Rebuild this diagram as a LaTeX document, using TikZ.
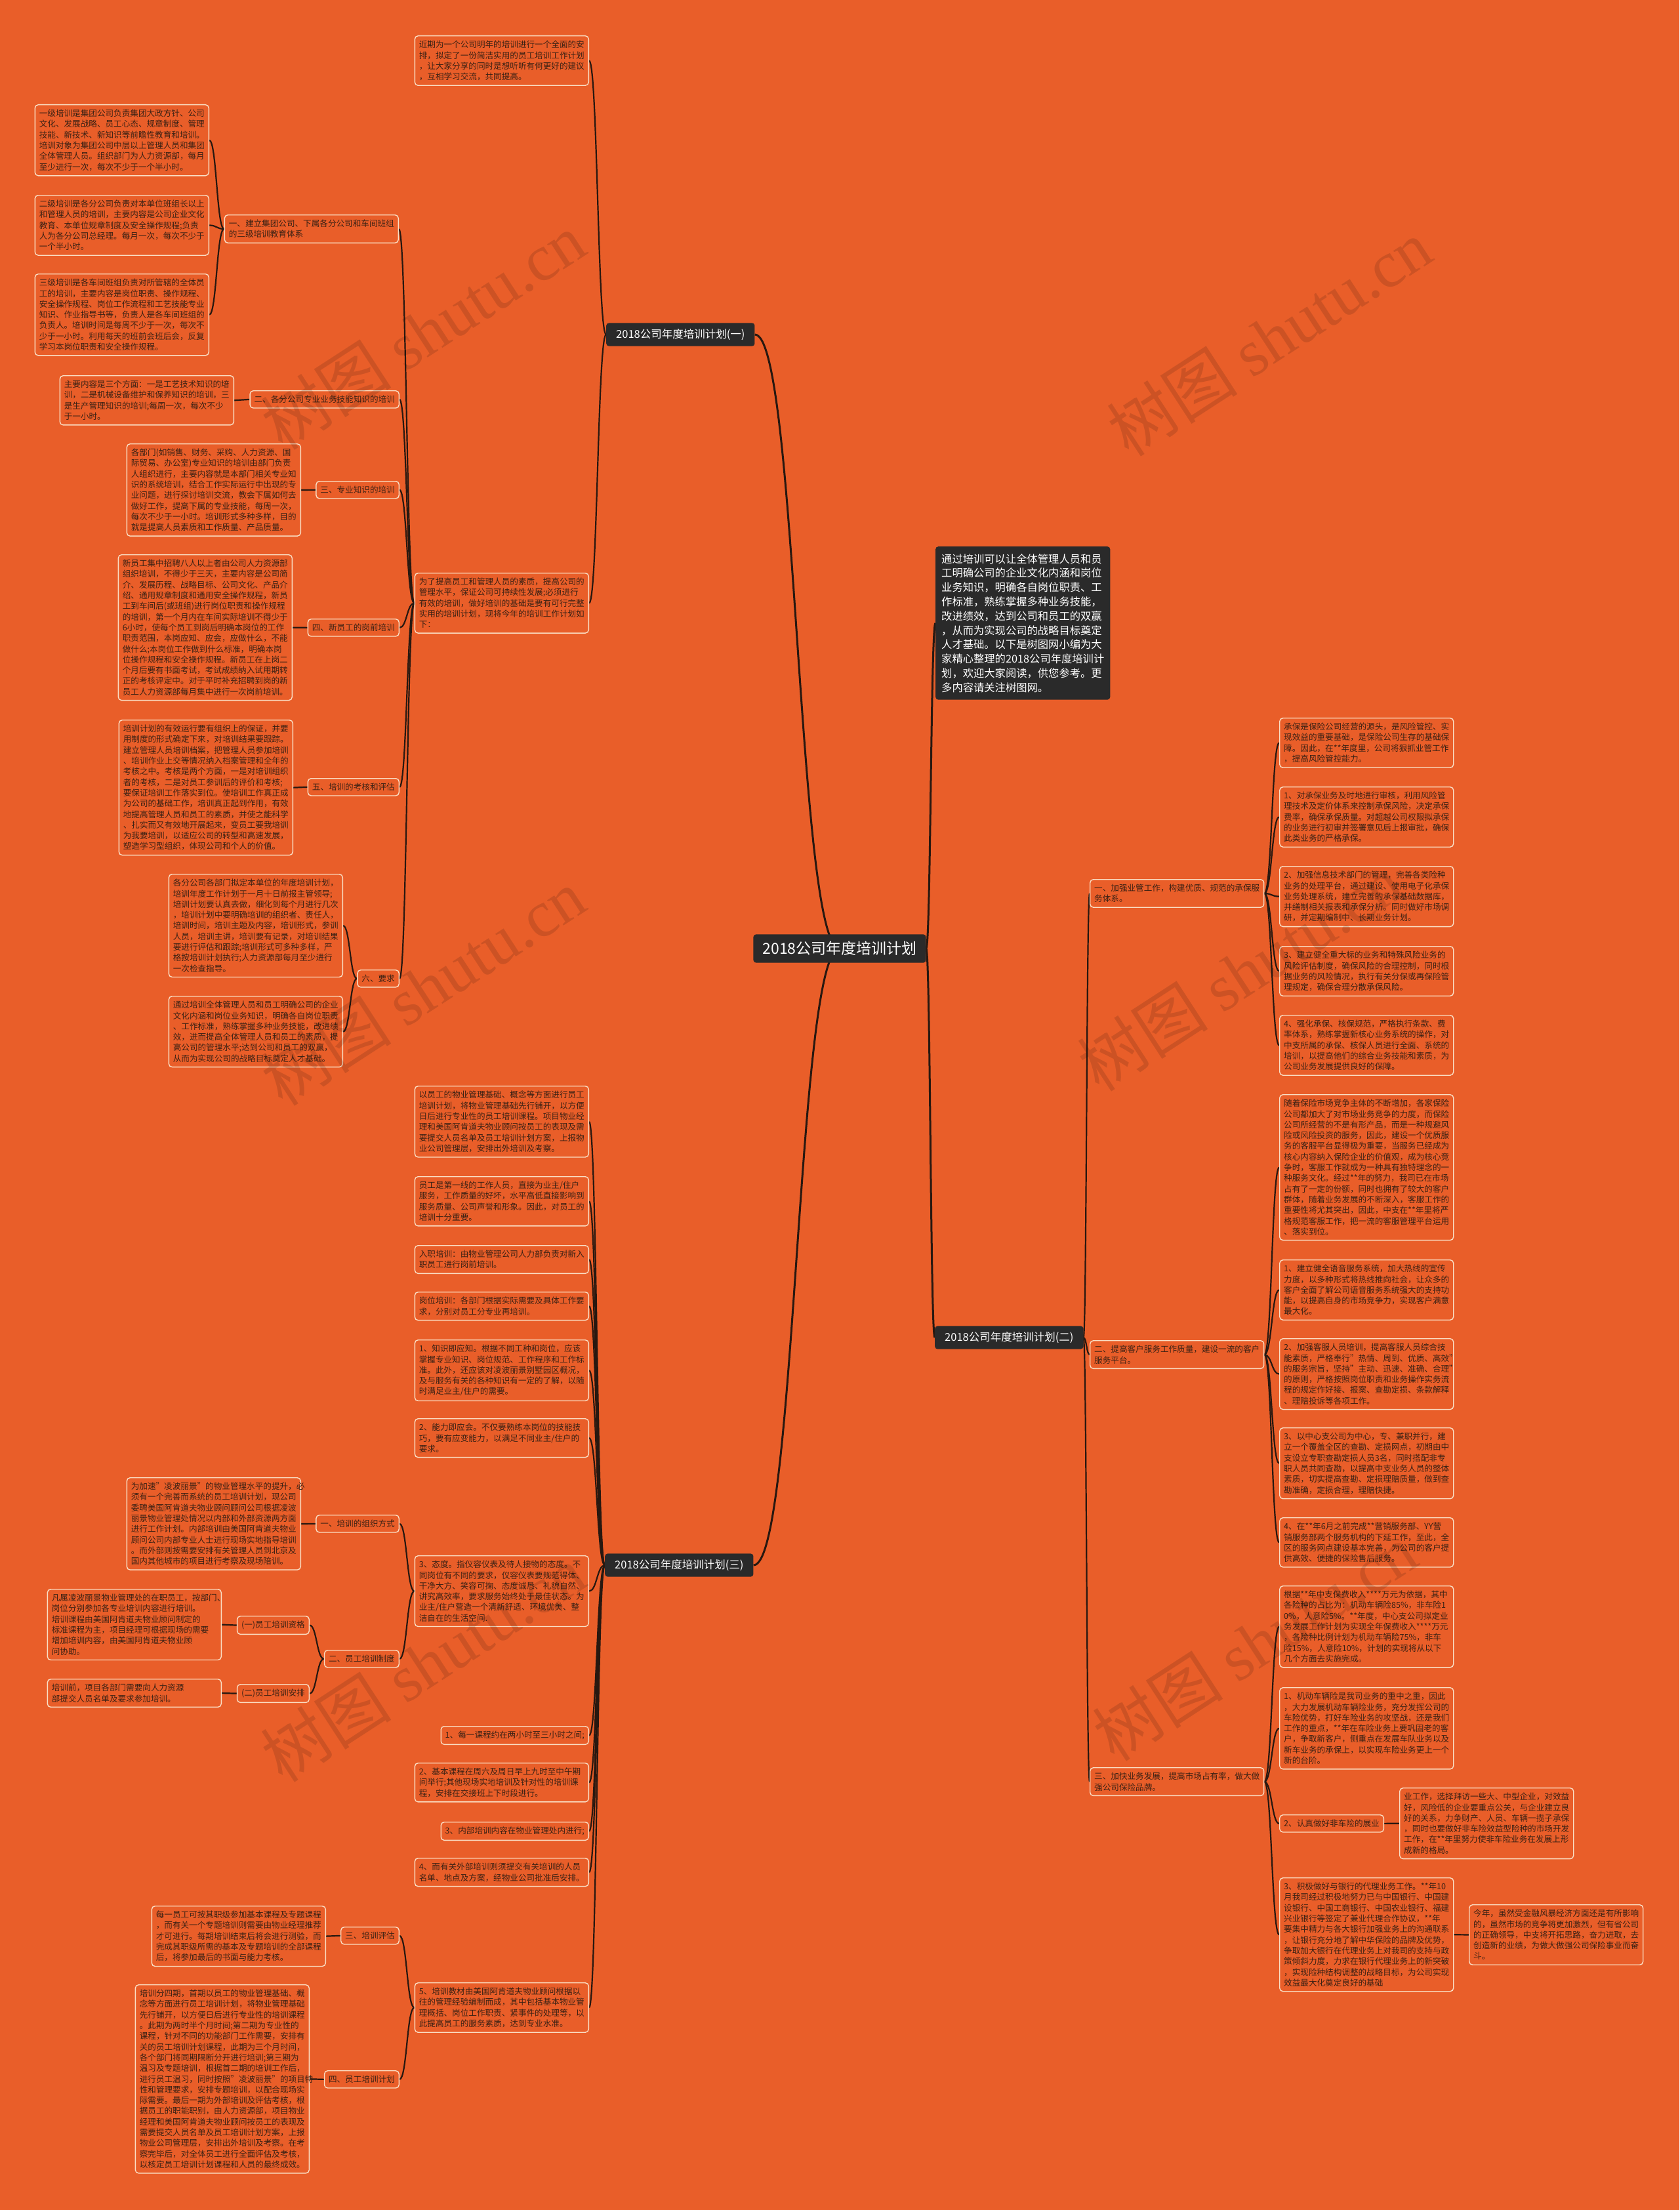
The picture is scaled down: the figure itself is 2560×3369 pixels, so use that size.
\documentclass[tikz,border=0pt]{standalone}
\usepackage{fontspec}
\setmainfont{Noto Sans CJK SC}
\newfontfamily\wmfont{Liberation Serif}
\usetikzlibrary{calc}
\definecolor{bgorange}{RGB}{233,94,41}
\definecolor{boxline}{RGB}{250,222,196}
\definecolor{txtbrown}{RGB}{58,33,20}
\definecolor{linebrown}{RGB}{40,24,16}
\definecolor{darkbox}{RGB}{42,42,42}
\pgfdeclarelayer{paper}
\pgfdeclarelayer{wires}
\pgfsetlayers{paper,wires,main}
\newcommand\bodyfont{\fontsize{12.6}{16.3}\selectfont}
% curved branch: horizontal ends, turn at half way
\newcommand\branch[3][wire]{%
  \path (#2) coordinate (p) (#3) coordinate (c) ($(p)!0.5!(c)$) coordinate (m);
  \draw[#1] (p) .. controls (m |- p) and (m |- c) .. (c);}
\tikzset{
  note/.style={draw=boxline, line width=1.4pt, fill=bgorange, rounded corners=5pt,
    text=txtbrown, font=\bodyfont, align=left, inner xsep=6.5pt, inner ysep=7.3pt},
  wide/.style={note, text width=252pt},
  lnote/.style={anchor=north east},
  rnote/.style={anchor=north west},
  topic/.style={fill=darkbox, rounded corners=4pt, text=white, inner xsep=15pt, inner ysep=9pt,
    font=\fontsize{16.5}{20}\selectfont},
  wire/.style={draw=linebrown, line width=2.2pt},
  trunk/.style={draw=linebrown, line width=3pt},
  mark wm/.style={rotate=33, text=black, opacity=0.12, font=\fontsize{100}{110}\selectfont}
}
\begin{document}
\begin{tikzpicture}[x=1pt, y=-1pt]
\useasboundingbox (0,0) rectangle (2560,3369);
\begin{pgfonlayer}{paper}
  \fill[bgorange] (0,0) rectangle (2560,3369);
\end{pgfonlayer}

% centre and main topics
\node[topic, font=\fontsize{23}{26}\selectfont, inner xsep=14pt, inner ysep=11pt] (ctr) at (1280,1446) {2018公司年度培训计划};
\node[topic, anchor=west] (b1) at (924,510) {2018公司年度培训计划(一)};
\node[topic, anchor=west] (b2) at (1425,2039) {2018公司年度培训计划(二)};
\node[topic, anchor=west] (b3) at (922,2386) {2018公司年度培训计划(三)};
\node[topic, anchor=north west, align=left, inner xsep=9pt, inner ysep=11pt, font=\fontsize{16.3}{21.8}\selectfont] (intro) at (1426,833)
  {通过培训可以让全体管理人员和员\\工明确公司的企业文化内涵和岗位\\业务知识，明确各自岗位职责、工\\作标准，熟练掌握多种业务技能，\\改进绩效，达到公司和员工的双赢\\，从而为实现公司的战略目标奠定\\人才基础。以下是树图网小编为大\\家精心整理的2018公司年度培训计\\划，欢迎大家阅读，供您参考。更\\多内容请关注树图网。};

% ---- (一)
\node[wide, lnote] (t0) at (898,54) {近期为一个公司明年的培训进行一个全面的安\\排，拟定了一份简洁实用的员工培训工作计划\\，让大家分享的同时是想听听有何更好的建议\\，互相学习交流，共同提高。};
\node[wide, lnote] (tp) at (898,873) {为了提高员工和管理人员的素质，提高公司的\\管理水平，保证公司可持续性发展;必须进行\\有效的培训，做好培训的基础是要有可行完整\\实用的培训计划，现将今年的培训工作计划如\\下：};
\node[wide, lnote] (L1) at (608,327) {一、建立集团公司、下属各分公司和车间班组\\的三级培训教育体系};
\node[wide, lnote] (A1) at (319,159) {一级培训是集团公司负责集团大政方针、公司\\文化、发展战略、员工心态、规章制度、管理\\技能、新技术、新知识等前瞻性教育和培训。\\培训对象为集团公司中层以上管理人员和集团\\全体管理人员。组织部门为人力资源部，每月\\至少进行一次，每次不少于一个半小时。};
\node[wide, lnote] (A2) at (319,297) {二级培训是各分公司负责对本单位班组长以上\\和管理人员的培训，主要内容是公司企业文化\\教育、本单位规章制度及安全操作规程;负责\\人为各分公司总经理。每月一次，每次不少于\\一个半小时。};
\node[wide, lnote] (A3) at (319,417) {三级培训是各车间班组负责对所管辖的全体员\\工的培训，主要内容是岗位职责、操作规程、\\安全操作规程、岗位工作流程和工艺技能专业\\知识、作业指导书等，负责人是各车间班组的\\负责人。培训时间是每周不少于一次，每次不\\少于一小时。利用每天的班前会班后会，反复\\学习本岗位职责和安全操作规程。};
\node[note, lnote] (L2) at (609,595) {二、各分公司专业业务技能知识的培训};
\node[wide, lnote] (B1) at (357,572) {主要内容是三个方面：一是工艺技术知识的培\\训，二是机械设备维护和保养知识的培训，三\\是生产管理知识的培训;每周一次，每次不少\\于一小时。};
\node[note, lnote] (L3) at (609,733) {三、专业知识的培训};
\node[wide, lnote] (B2) at (459,676) {各部门(如销售、财务、采购、人力资源、国\\际贸易、办公室)专业知识的培训由部门负责\\人组织进行，主要内容就是本部门相关专业知\\识的系统培训，结合工作实际运行中出现的专\\业问题，进行探讨培训交流，教会下属如何去\\做好工作，提高下属的专业技能，每周一次，\\每次不少于一小时。培训形式多种多样，目的\\就是提高人员素质和工作质量、产品质量。};
\node[note, lnote] (L4) at (609,943) {四、新员工的岗前培训};
\node[wide, lnote] (B3) at (446,845) {新员工集中招聘八人以上者由公司人力资源部\\组织培训，不得少于三天，主要内容是公司简\\介、发展历程、战略目标、公司文化、产品介\\绍、通用规章制度和通用安全操作规程，新员\\工到车间后(或班组)进行岗位职责和操作规程\\的培训，第一个月内在车间实际培训不得少于\\6小时，使每个员工到岗后明确本岗位的工作\\职责范围，本岗应知、应会，应做什么，不能\\做什么;本岗位工作做到什么标准，明确本岗\\位操作规程和安全操作规程。新员工在上岗二\\个月后要有书面考试，考试成绩纳入试用期转\\正的考核评定中。对于平时补充招聘到岗的新\\员工人力资源部每月集中进行一次岗前培训。};
\node[note, lnote] (L5) at (609,1186) {五、培训的考核和评估};
\node[wide, lnote] (B5) at (447,1097) {培训计划的有效运行要有组织上的保证，并要\\用制度的形式确定下来，对培训结果要跟踪。\\建立管理人员培训档案，把管理人员参加培训\\、培训作业上交等情况纳入档案管理和全年的\\考核之中。考核是两个方面，一是对培训组织\\者的考核，二是对员工参训后的评价和考核;\\要保证培训工作落实到位。使培训工作真正成\\为公司的基础工作，培训真正起到作用，有效\\地提高管理人员和员工的素质，并使之能科学\\、扎实而又有效地开展起来，变员工要我培训\\为我要培训，以适应公司的转型和高速发展，\\塑造学习型组织，体现公司和个人的价值。};
\node[note, lnote] (L6) at (609,1478) {六、要求};
\node[wide, lnote] (B6) at (523,1332) {各分公司各部门拟定本单位的年度培训计划，\\培训年度工作计划于一月十日前报主管领导;\\培训计划要认真去做，细化到每个月进行几次\\，培训计划中要明确培训的组织者、责任人，\\培训时间，培训主题及内容，培训形式，参训\\人员，培训主讲，培训要有记录，对培训结果\\要进行评估和跟踪;培训形式可多种多样，严\\格按培训计划执行;人力资源部每月至少进行\\一次检查指导。};
\node[wide, lnote] (B7) at (523,1518) {通过培训全体管理人员和员工明确公司的企业\\文化内涵和岗位业务知识，明确各自岗位职责\\、工作标准，熟练掌握多种业务技能，改进绩\\效，进而提高全体管理人员和员工的素质，提\\高公司的管理水平;达到公司和员工的双赢，\\从而为实现公司的战略目标奠定人才基础。};

% ---- (三)
\node[wide, lnote] (C1) at (898,1655) {以员工的物业管理基础、概念等方面进行员工\\培训计划，将物业管理基础先行铺开，以方便\\日后进行专业性的员工培训课程。项目物业经\\理和美国阿肯道夫物业顾问按员工的表现及需\\要提交人员名单及员工培训计划方案，上报物\\业公司管理层，安排出外培训及考察。};
\node[wide, lnote] (C2) at (898,1793) {员工是第一线的工作人员，直接为业主/住户\\服务，工作质量的好坏，水平高低直接影响到\\服务质量、公司声誉和形象。因此，对员工的\\培训十分重要。};
\node[wide, lnote] (C3) at (898,1898) {入职培训：由物业管理公司人力部负责对新入\\职员工进行岗前培训。};
\node[wide, lnote] (C4) at (898,1969) {岗位培训：各部门根据实际需要及具体工作要\\求，分别对员工分专业再培训。};
\node[wide, lnote] (C5) at (898,2042) {1、知识即应知。根据不同工种和岗位，应该\\掌握专业知识、岗位规范、工作程序和工作标\\准。此外，还应该对凌波丽景别墅园区概况，\\及与服务有关的各种知识有一定的了解，以随\\时满足业主/住户的需要。};
\node[wide, lnote] (C6) at (898,2162) {2、能力即应会。不仅要熟练本岗位的技能技\\巧，要有应变能力，以满足不同业主/住户的\\要求。};
\node[wide, lnote] (C7) at (898,2371) {3、态度。指仪容仪表及待人接物的态度。不\\同岗位有不同的要求，仪容仪表要规范得体、\\干净大方、笑容可掬、态度诚恳、礼貌自然、\\讲究高效率，要求服务始终处于最佳状态。为\\业主/住户营造一个清新舒适、环境优美、整\\洁自在的生活空间.};
\node[note, lnote] (C8) at (898,2631) {1、每一课程约在两小时至三小时之间;};
\node[wide, lnote] (C9) at (898,2687) {2、基本课程在周六及周日早上九时至中午期\\间举行;其他现场实地培训及针对性的培训课\\程，安排在交接班上下时段进行。};
\node[note, lnote] (C10) at (898,2777) {3、内部培训内容在物业管理处内进行;};
\node[wide, lnote] (C11) at (898,2832) {4、而有关外部培训则须提交有关培训的人员\\名单、地点及方案，经物业公司批准后安排。};
\node[wide, lnote] (C12) at (898,3022) {5、培训教材由美国阿肯道夫物业顾问根据以\\往的管理经验编制而成，其中包括基本物业管\\理概括、岗位工作职责、紧事件的处理等，以\\此提高员工的服务素质，达到专业水准。};
\node[note, lnote] (M1) at (609,2309) {一、培训的组织方式};
\node[wide, lnote] (D1) at (459,2252) {为加速"凌波丽景"的物业管理水平的提升，必\\须有一个完善而系统的员工培训计划，现公司\\委聘美国阿肯道夫物业顾问顾问公司根据凌波\\丽景物业管理处情况以内部和外部资源两方面\\进行工作计划。内部培训由美国阿肯道夫物业\\顾问公司内部专业人士进行现场实地指导培训\\。而外部则按需要安排有关管理人员到北京及\\国内其他城市的项目进行考察及现场陪训。};
\node[note, lnote] (M2) at (609,2515) {二、员工培训制度};
\node[note, lnote] (M2a) at (472,2463) {(一)员工培训资格};
\node[note, lnote] (M2b) at (472,2567) {(二)员工培训安排};
\node[wide, lnote] (D2) at (338,2422) {凡属凌波丽景物业管理处的在职员工，按部门、\\岗位分别参加各专业培训内容进行培训。\\培训课程由美国阿肯道夫物业顾问制定的\\标准课程为主，项目经理可根据现场的需要\\增加培训内容，由美国阿肯道夫物业顾\\问协助。};
\node[wide, lnote] (D3) at (338,2559) {培训前，项目各部门需要向人力资源\\部提交人员名单及要求参加培训。};
\node[note, lnote] (M3) at (609,2937) {三、培训评估};
\node[wide, lnote] (D4) at (497,2905) {每一员工可按其职级参加基本课程及专题课程\\，而有关一个专题培训则需要由物业经理推荐\\才可进行。每期培训结束后将会进行测验，而\\完成其职级所需的基本及专题培训的全部课程\\后，将参加最后的书面与能力考核。};
\node[note, lnote] (M4) at (609,3156) {四、员工培训计划};
\node[wide, lnote] (D5) at (472,3025) {培训分四期，首期以员工的物业管理基础、概\\念等方面进行员工培训计划，将物业管理基础\\先行铺开，以方便日后进行专业性的培训课程\\。此期为两时半个月时间;第二期为专业性的\\课程，针对不同的功能部门工作需要，安排有\\关的员工培训计划课程，此期为三个月时间，\\各个部门将同期隔断分开进行培训;第三期为\\温习及专题培训，根据首二期的培训工作后，\\进行员工温习，同时按照"凌波丽景"的项目特\\性和管理要求，安排专题培训，以配合现场实\\际需要。最后一期为外部培训及评估考核，根\\据员工的职能职别，由人力资源部，项目物业\\经理和美国阿肯道夫物业顾问按员工的表现及\\需要提交人员名单及员工培训计划方案，上报\\物业公司管理层，安排出外培训及考察。在考\\察完毕后，对全体员工进行全面评估及考核，\\以核定员工培训计划课程和人员的最终成效。};

% ---- (二)
\node[wide, rnote] (R1) at (1661,1340) {一、加强业管工作，构建优质、规范的承保服\\务体系。};
\node[wide, rnote] (E1) at (1950,1094) {承保是保险公司经营的源头，是风险管控、实\\现效益的重要基础，是保险公司生存的基础保\\障。因此，在**年度里，公司将狠抓业管工作\\，提高风险管控能力。};
\node[wide, rnote] (E2) at (1950,1199) {1、对承保业务及时地进行审核，利用风险管\\理技术及定价体系来控制承保风险，决定承保\\费率，确保承保质量。对超越公司权限拟承保\\的业务进行初审并签署意见后上报审批，确保\\此类业务的严格承保。};
\node[wide, rnote] (E3) at (1950,1320) {2、加强信息技术部门的管理，完善各类险种\\业务的处理平台，通过建设、使用电子化承保\\业务处理系统，建立完善的承保基础数据库，\\并缮制相关报表和承保分析。同时做好市场调\\研，并定期编制中、长期业务计划。};
\node[wide, rnote] (E4) at (1950,1442) {3、建立健全重大标的业务和特殊风险业务的\\风险评估制度，确保风险的合理控制，同时根\\据业务的风险情况，执行有关分保或再保险管\\理规定，确保合理分散承保风险。};
\node[wide, rnote] (E5) at (1950,1547) {4、强化承保、核保规范，严格执行条款、费\\率体系，熟练掌握新核心业务系统的操作，对\\中支所属的承保、核保人员进行全面、系统的\\培训，以提高他们的综合业务技能和素质，为\\公司业务发展提供良好的保障。};
\node[wide, rnote] (R2) at (1661,2043) {二、提高客户服务工作质量，建设一流的客户\\服务平台。};
\node[wide, rnote] (F1) at (1950,1668) {随着保险市场竞争主体的不断增加，各家保险\\公司都加大了对市场业务竞争的力度，而保险\\公司所经营的不是有形产品，而是一种规避风\\险或风险投资的服务，因此，建设一个优质服\\务的客服平台显得极为重要，当服务已经成为\\核心内容纳入保险企业的价值观，成为核心竞\\争时，客服工作就成为一种具有独特理念的一\\种服务文化。经过**年的努力，我司已在市场\\占有了一定的份额，同时也拥有了较大的客户\\群体，随着业务发展的不断深入，客服工作的\\重要性将尤其突出，因此，中支在**年里将严\\格规范客服工作，把一流的客服管理平台运用\\、落实到位。};
\node[wide, rnote] (F2) at (1950,1920) {1、建立健全语音服务系统，加大热线的宣传\\力度，以多种形式将热线推向社会，让众多的\\客户全面了解公司语音服务系统强大的支持功\\能，以提高自身的市场竞争力，实现客户满意\\最大化。};
\node[wide, rnote] (F3) at (1950,2040) {2、加强客服人员培训，提高客服人员综合技\\能素质，严格奉行"热情、周到、优质、高效"\\的服务宗旨，坚持"主动、迅速、准确、合理"\\的原则，严格按照岗位职责和业务操作实务流\\程的规定作好接、报案、查勘定损、条款解释\\、理赔投诉等各项工作。};
\node[wide, rnote] (F4) at (1950,2176) {3、以中心支公司为中心，专、兼职并行，建\\立一个覆盖全区的查勘、定损网点，初期由中\\支设立专职查勘定损人员3名，同时搭配非专\\职人员共同查勘，以提高中支业务人员的整体\\素质，切实提高查勘、定损理赔质量，做到查\\勘准确，定损合理，理赔快捷。};
\node[wide, rnote] (F5) at (1950,2313) {4、在**年6月之前完成**营销服务部、YY营\\销服务部两个服务机构的下延工作，至此，全\\区的服务网点建设基本完善，为公司的客户提\\供高效、便捷的保险售后服务。};
\node[wide, rnote] (R3) at (1661,2694) {三、加快业务发展，提高市场占有率，做大做\\强公司保险品牌。};
\node[wide, rnote] (G1) at (1950,2417) {根据**年中支保费收入****万元为依据，其中\\各险种的占比为：机动车辆险85\%，非车险1\\0\%，人意险5\%。**年度，中心支公司拟定业\\务发展工作计划为实现全年保费收入****万元\\，各险种比例计划为机动车辆险75\%，非车\\险15\%，人意险10\%，计划的实现将从以下\\几个方面去实施完成。};
\node[wide, rnote] (G2) at (1950,2572) {1、机动车辆险是我司业务的重中之重，因此\\，大力发展机动车辆险业务，充分发挥公司的\\车险优势，打好车险业务的攻坚战，还是我们\\工作的重点，**年在车险业务上要巩固老的客\\户，争取新客户，侧重点在发展车队业务以及\\新车业务的承保上，以实现车险业务更上一个\\新的台阶。};
\node[note, rnote] (G3) at (1950,2766) {2、认真做好非车险的展业};
\node[wide, rnote] (G3x) at (2133,2725) {业工作，选择拜访一些大、中型企业，对效益\\好，风险低的企业要重点公关，与企业建立良\\好的关系，力争财产、人员、车辆一揽子承保\\，同时也要做好非车险效益型险种的市场开发\\工作，在**年里努力使非车险业务在发展上形\\成新的格局。};
\node[wide, rnote] (G4) at (1950,2862) {3、积极做好与银行的代理业务工作。**年10\\月我司经过积极地努力已与中国银行、中国建\\设银行、中国工商银行、中国农业银行、福建\\兴业银行等签定了兼业代理合作协议，**年\\要集中精力与各大银行加强业务上的沟通联系\\，让银行充分地了解中华保险的品牌及优势，\\争取加大银行在代理业务上对我司的支持与政\\策倾斜力度，力求在银行代理业务上的新突破\\，实现险种结构调整的战略目标，为公司实现\\效益最大化奠定良好的基础};
\node[wide, rnote] (G4x) at (2239,2903) {今年，虽然受金融风暴经济方面还是有所影响\\的，虽然市场的竞争将更加激烈，但有省公司\\的正确领导，中支将开拓思路，奋力进取，去\\创造新的业绩，为做大做强公司保险事业而奋\\斗。};

\begin{pgfonlayer}{wires}
  \branch[trunk]{ctr.center}{b1.east}
  \branch[trunk]{ctr.center}{b3.east}
  \branch[trunk]{ctr.east}{intro.west}
  \branch[trunk]{ctr.east}{b2.west}
  \foreach \k in {t0,tp} {\branch{b1.west}{\k.east}}
  \foreach \k in {L1,L2,L3,L4,L5,L6} {\branch{tp.west}{\k.east}}
  \foreach \k in {A1,A2,A3} {\branch{L1.west}{\k.east}}
  \branch{L2.west}{B1.east}
  \branch{L3.west}{B2.east}
  \branch{L4.west}{B3.east}
  \branch{L5.west}{B5.east}
  \branch{L6.west}{B6.east}
  \branch{L6.west}{B7.east}
  \foreach \k in {C1,C2,C3,C4,C5,C6,C7,C8,C9,C10,C11,C12} {\branch{b3.west}{\k.east}}
  \branch{C7.west}{M1.east}
  \branch{C7.west}{M2.east}
  \branch{M1.west}{D1.east}
  \branch{M2.west}{M2a.east}
  \branch{M2.west}{M2b.east}
  \branch{M2a.west}{D2.east}
  \branch{M2b.west}{D3.east}
  \branch{C12.west}{M3.east}
  \branch{C12.west}{M4.east}
  \branch{M3.west}{D4.east}
  \branch{M4.west}{D5.east}
  \foreach \k in {R1,R2,R3} {\branch{b2.east}{\k.west}}
  \foreach \k in {E1,E2,E3,E4,E5} {\branch{R1.east}{\k.west}}
  \foreach \k in {F1,F2,F3,F4,F5} {\branch{R2.east}{\k.west}}
  \foreach \k in {G1,G2,G3,G4} {\branch{R3.east}{\k.west}}
  \branch{G3.east}{G3x.west}
  \branch{G4.east}{G4x.west}
\end{pgfonlayer}

% watermarks
\foreach \wx/\wy [count=\w] in {645/505,1935/515,645/1505,1890/1483,645/2536,1913/2504}
  \node[mark wm] (wm\w) at (\wx,\wy) {树图 {\wmfont shutu.cn}};
\end{tikzpicture}
\end{document}
